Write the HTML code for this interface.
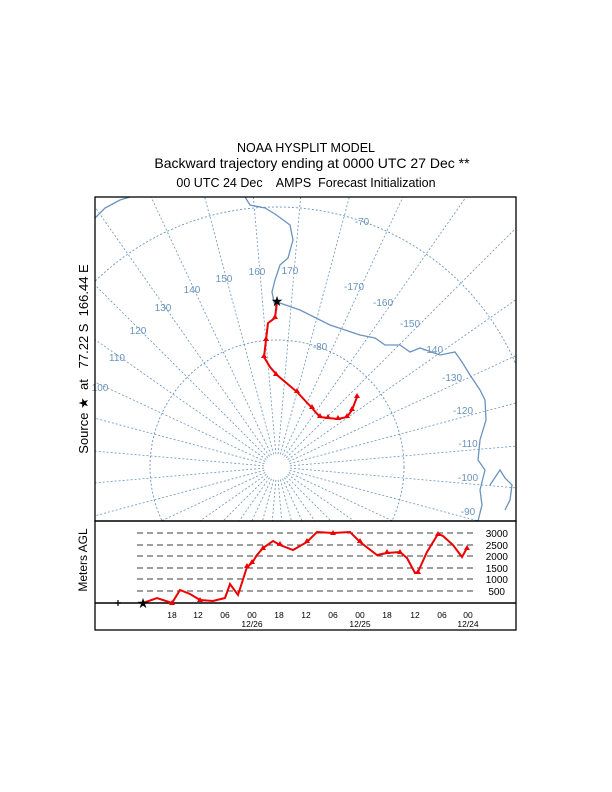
<!DOCTYPE html>
<html><head><meta charset="utf-8"><style>
html,body{margin:0;padding:0;background:#fff;width:612px;height:792px;overflow:hidden}
svg{display:block;overflow:hidden}
text{font-family:"Liberation Sans",sans-serif;white-space:pre}
</style></head><body>
<svg id="s" width="612" height="792" viewBox="0 0 612 792" xmlns="http://www.w3.org/2000/svg">
<text x="306" y="152" font-size="12.5" text-anchor="middle">NOAA HYSPLIT MODEL</text>
<text x="312" y="168" font-size="14" text-anchor="middle">Backward trajectory ending at 0000 UTC 27 Dec **</text>
<text x="306" y="187" font-size="12.5" text-anchor="middle">00 UTC 24 Dec    AMPS  Forecast Initialization</text>
<defs><clipPath id="c"><rect x="95" y="197" width="421" height="324"/></clipPath></defs>
<g id="map" clip-path="url(#c)" fill="none" stroke="#6a93bd" stroke-width="0.9">
<circle cx="277" cy="467" r="127" stroke-dasharray="2,2"/>
<circle cx="277" cy="467" r="260" stroke-dasharray="2,2"/>
<polyline stroke-width="1.3" points="277,302 300,310 330,325 360,335 375,338 385,345 400,345 410,352 420,348 440,355 455,352 462,362 470,375 480,390 485,400 486,420 480,440 478,460 485,470 480,490 482,505 478,521"/>
<polyline stroke-width="1.3" points="245,197 250,205 265,208 275,214 290,225 293,240 288,258 280,265 275,280 272,292 274,302 277,310"/>
<polyline stroke-width="1.3" points="95,218 105,208 120,200 130,197"/>
<polyline stroke-width="1.3" points="490,485 500,470 505,478 512,485 510,500 505,510"/>
</g>
<g fill="#6a93bd" font-size="10" text-anchor="middle">
<text x="100" y="391">100</text><text x="117" y="361">110</text><text x="138" y="334">120</text><text x="163" y="311">130</text><text x="192" y="293">140</text><text x="224" y="282">150</text><text x="257" y="275">160</text><text x="290" y="274">170</text>
<text x="354" y="290">-170</text><text x="383" y="306">-160</text><text x="410" y="327">-150</text><text x="433" y="353">-140</text><text x="452" y="381">-130</text><text x="463" y="414">-120</text><text x="468" y="447">-110</text><text x="468" y="481">-100</text><text x="468" y="515">-90</text>
<text x="362" y="225">-70</text><text x="320" y="350">-80</text>
</g>
<rect x="95" y="197" width="421" height="324" fill="none" stroke="#000" stroke-width="1.3"/>
<polyline fill="none" stroke="#e00" stroke-width="2" points="277,302 275,318 268,323 266,340 264,357 270,367 277,375 297,392 312,408 320,417 328,418 338,419 347,417 352,410 357,397"/>
<g fill="#e00">
<path d="M275,314 l3,5 h-6z M266,336 l3,5 h-6z M264,353 l3,5 h-6z M276,371 l3,5 h-6z M297,388 l3,5 h-6z M312,404 l3,5 h-6z M320,413 l3,5 h-6z M328,414 l3,5 h-6z M338,415 l3,5 h-6z M347,413 l3,5 h-6z M352,406 l3,5 h-6z M357,393 l3,5 h-6z"/>
</g>
<text x="277" y="306" font-size="14" text-anchor="middle">★</text>
<text transform="translate(88,359) rotate(-90)" font-size="13" text-anchor="middle">Source ★  at   77.22 S  166.44 E</text>
<rect x="95" y="521" width="421" height="109" fill="none" stroke="#000" stroke-width="1.3"/>
<g stroke="#000" stroke-width="0.8" stroke-dasharray="6,4">
<line x1="137" y1="533" x2="475" y2="533"/><line x1="137" y1="545" x2="475" y2="545"/><line x1="137" y1="556" x2="475" y2="556"/><line x1="137" y1="568" x2="475" y2="568"/><line x1="137" y1="579" x2="475" y2="579"/><line x1="137" y1="591" x2="475" y2="591"/>
</g>
<g font-size="10" text-anchor="end"><text x="508" y="537">3000</text><text x="508" y="549">2500</text><text x="508" y="560">2000</text><text x="508" y="572">1500</text><text x="508" y="583">1000</text><text x="505" y="595">500</text></g>
<line x1="95" y1="603" x2="516" y2="603" stroke="#000" stroke-width="1.5"/>
<text transform="translate(87,560) rotate(-90)" font-size="12" text-anchor="middle">Meters AGL</text>
<polyline fill="none" stroke="#e00" stroke-width="2" points="143,603 157,598 172,603 180,590 190,594 200,600 213,601 225,598 230,584 238,595 247,567 252,563 257,555 263,548 273,541 280,545 293,550 307,542 317,532 333,533 350,532 360,542 377,555 387,553 400,552 407,558 415,573 418,572 427,552 438,534 443,536 453,545 462,557 467,548"/>
<g fill="#e00"><path d="M172,600 l3,5 h-6z M200,597 l3,5 h-6z M247,563 l3,5 h-6z M252,559 l3,5 h-6z M263,545 l3,5 h-6z M280,541 l3,5 h-6z M307,538 l3,5 h-6z M333,530 l3,5 h-6z M360,538 l3,5 h-6z M387,549 l3,5 h-6z M400,549 l3,5 h-6z M418,569 l3,5 h-6z M438,531 l3,5 h-6z M467,545 l3,5 h-6z"/></g>
<text x="143" y="608" font-size="14" text-anchor="middle">★</text>
<path d="M115,603 h6 M118,600 v6" stroke="#000" stroke-width="1.2"/>
<g font-size="8.5" text-anchor="middle">
<text x="172" y="618">18</text><text x="198" y="618">12</text><text x="225" y="618">06</text><text x="252" y="618">00</text><text x="279" y="618">18</text><text x="306" y="618">12</text><text x="333" y="618">06</text><text x="360" y="618">00</text><text x="387" y="618">18</text><text x="415" y="618">12</text><text x="442" y="618">06</text><text x="468" y="618">00</text>
<text x="252" y="627">12/26</text><text x="360" y="627">12/25</text><text x="468" y="627">12/24</text></g>
</svg>
<script>
var ns="http://www.w3.org/2000/svg",m=document.getElementById("map");
for(var L=0;L<360;L+=10){var a=(L-165)*Math.PI/180,s=Math.sin(a),c=-Math.cos(a);
var l=document.createElementNS(ns,"line");l.setAttribute("x1",277+13*s);l.setAttribute("y1",467+13*c);l.setAttribute("x2",277+700*s);l.setAttribute("y2",467+700*c);l.setAttribute("stroke-dasharray","2,2");l.setAttribute("stroke-width","0.8");m.appendChild(l);}
</script>
</body></html>
